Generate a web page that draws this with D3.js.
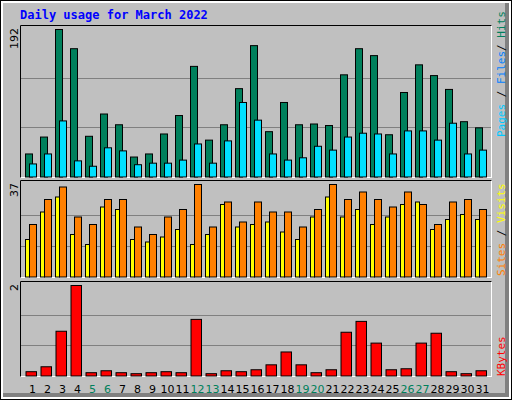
<!DOCTYPE html>
<html><head><meta charset="utf-8">
<script src="https://cdn.jsdelivr.net/npm/d3@7"></script>
<style>body{margin:0;background:#fff}</style></head>
<body><svg id="c" width="512" height="400"></svg>
<script>
const days = d3.range(1,32);
const weekends = [5,6,12,13,19,20,26,27];
const hits = [30,52,192,167,53,82,68,26,30,56,80,144,48,68,115,171,59,97,68,69,67,133,167,158,55,110,146,132,114,72,64];
const files = [17,30,73,21,14,38,34,16,18,18,22,43,18,47,97,74,30,22,25,40,35,52,57,56,30,60,60,48,70,30,35];
const sites = [15,26,32,17,13,28,27,15,14,16,19,13,17,29,20,21,22,18,15,24,32,24,27,21,24,29,30,19,23,25,23];
const visits = [21,31,36,24,21,31,31,20,17,24,27,37,20,30,22,30,26,26,20,27,37,31,34,31,28,34,29,21,30,31,27];
const kbytes = [0.095,0.204,0.989,2,0.073,0.116,0.073,0.051,0.073,0.095,0.073,1.251,0.051,0.116,0.095,0.138,0.247,0.531,0.247,0.073,0.138,0.967,1.207,0.727,0.138,0.16,0.727,0.945,0.095,0.051,0.116];
const maxLabels = ["192","37","2"];

const svg = d3.select("#c");
svg.append("rect").attr("width",512).attr("height",400).attr("fill","#000");
svg.append("rect").attr("x",1).attr("y",1).attr("width",510).attr("height",398).attr("fill","#fff");
svg.append("rect").attr("x",3).attr("y",3).attr("width",506).attr("height",394).attr("fill","#808080");
svg.append("rect").attr("x",3).attr("y",3).attr("width",502).attr("height",390).attr("fill","#c0c0c0");

svg.append("text").attr("x",20).attr("y",19).text("Daily usage for March 2022")
  .attr("font-family","DejaVu Sans Mono").attr("font-weight","bold").attr("font-size",12).attr("fill","#0000ff");

const x = d3.scaleBand().domain(days).range([23.5,488.5]);
const panels = [
  {y0:25,y1:177,max:192},
  {y0:180,y1:277,max:37},
  {y0:281,y1:376,max:2}
];
panels.forEach((p,i)=>{
  svg.append("rect").attr("x",20.5).attr("y",p.y0+0.5).attr("width",471).attr("height",p.y1-p.y0).attr("fill","#c0c0c0").attr("stroke","#fff");
  svg.append("path").attr("d",`M20.5,${p.y1+0.5}V${p.y0+0.5}H491.5`).attr("stroke","#000").attr("fill","none");
  p.scale = d3.scaleLinear().domain([0,p.max]).range([p.y1-0.5,p.y0+4]);
  [1/3,2/3].forEach(f=>{
    const yy = Math.round(p.scale(p.max*f))+0.5;
    svg.append("line").attr("x1",21).attr("x2",491).attr("y1",yy).attr("y2",yy).attr("stroke","#808080");
  });
  svg.append("text").attr("transform",`translate(18,${p.y0+3}) rotate(-90)`).attr("text-anchor","end")
    .attr("font-family","DejaVu Sans").attr("font-size",11).attr("fill","#000").text(maxLabels[i]);
});

function bars(data,p,off,w,color){
  svg.append("g").selectAll("rect").data(data).join("rect")
    .attr("x",(d,i)=>x(days[i])+off+0.5).attr("width",w)
    .attr("y",d=>p.scale(d)+0.5).attr("height",d=>p.y1-0.5-p.scale(d))
    .attr("fill",color).attr("stroke","#000").attr("stroke-width",1);
}
bars(hits,panels[0],1.5,7,"#00805c");
bars(files,panels[0],5.5,7,"#00e0ff");
bars(sites,panels[1],1.5,4,"#ffff00");
bars(visits,panels[1],5.5,7,"#ff8000");
bars(kbytes,panels[2],2,10.5,"#ff0000");

svg.append("g").selectAll("text").data(days).join("text")
  .attr("x",d=>x(d)+x.bandwidth()/2+1.5).attr("y",393).attr("text-anchor","middle")
  .attr("font-family","DejaVu Sans").attr("font-size",11)
  .attr("fill",d=>weekends.includes(d)?"#00805c":"#000").text(d=>d);

function side(parts,yBottom){
  const t = svg.append("text").attr("transform",`translate(505,${yBottom}) rotate(-90)`)
    .attr("font-family","DejaVu Sans Mono").attr("font-size",11);
  parts.forEach(([s,c])=>t.append("tspan").attr("fill",c).text(s));
}
side([["Pages","#00c8ff"],[" / ","#000"],["Files","#0080ff"],["/ ","#000"],["Hits","#00805c"]],137);
side([["Sites","#ff8000"],[" / ","#000"],["Visits","#ffff00"]],276);
side([["KBytes","#ff0000"]],376);
</script></body></html>
